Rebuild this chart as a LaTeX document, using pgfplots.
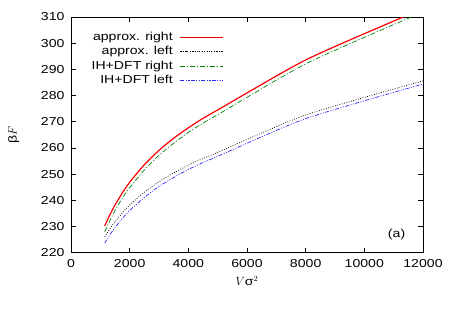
\documentclass[border=0pt]{standalone}
\usepackage{fontspec}
\setmainfont{Liberation Sans}[FakeStretch=1.22]
\usepackage{pgfplots}
\pgfplotsset{compat=1.18}

\definecolor{myred}{RGB}{255,0,0}
\definecolor{mygreen}{RGB}{0,128,0}
\definecolor{myblue}{RGB}{40,40,255}

\begin{document}
\begin{tikzpicture}[font=\fontsize{11.6}{13}\selectfont]
\path[use as bounding box] (-71bp,-62.3bp) rectangle (379bp,252.7bp);
\begin{axis}[
  at={(0,0)}, anchor=south west,
  scale only axis,
  width=352bp, height=235.7bp,
  xmin=0, xmax=12000, ymin=220, ymax=310,
  xtick={0,2000,...,12000},
  ytick={220,230,...,310},
  scaled x ticks=false,
  /pgf/number format/.cd, 1000 sep={}, assume math mode=true,
  /pgfplots/.cd,
  tick label style={font=\fontsize{11.6}{13}\selectfont},
  label style={font=\fontsize{11.6}{13}\selectfont},
  tick align=inside,
  major tick length=5bp,
  tick style={line width=0.8pt, black},
  axis line style={line width=0.8pt},
  xticklabel style={yshift=-3bp},
  yticklabel style={xshift=-3bp},
  xlabel={$V$σ$^2$},
  ylabel={β$F$},
  xlabel style={at={(axis description cs:0.5,0)}, anchor=center, yshift=-28bp},
  ylabel style={at={(axis description cs:-0.163,0.5)}, anchor=center},
  legend style={draw=none, fill=none, at={(0.435,0.953)}, anchor=north east,
    font=\fontsize{11.6}{13}\selectfont, row sep=0.5bp, column sep=5bp,
    inner xsep=1bp},
  legend cell align=right,
  legend plot pos=right,
  legend image code/.code={\draw[#1] plot coordinates {(0bp,0bp) (21bp,0bp) (42bp,0bp)};},
]
% approximate free energy, right-hand branch
\addplot[myred, line width=1.2pt, smooth, tension=0.4] coordinates {
 (1150,230.2) (1300,233.9) (1500,238.2) (1750,242.8) (2000,246.9)
 (2500,253.6) (3000,259.1) (3500,263.7) (4000,267.7) (4500,271.3)
 (5000,274.5) (8000,293.6) (11330,310.0)};
\addlegendentry{approx. right}
% approximate free energy, left-hand branch
\addplot[black, line width=0.7pt, dash pattern=on 0.8pt off 1.6pt, smooth, tension=0.4] coordinates {
 (1150,226.0) (1300,228.7) (1500,231.8) (1750,235.2) (2000,238.2)
 (2500,243.1) (3000,247.1) (3500,250.5) (4000,253.4) (4500,256.0)
 (5000,258.3) (8000,272.6) (12000,285.6)};
\addlegendentry{approx. left}
% IH+DFT, right-hand branch
\addplot[mygreen, line width=0.7pt, dash pattern=on 5pt off 2pt on 1pt off 2pt, smooth, tension=0.4] coordinates {
 (1150,228.0) (1300,231.7) (1500,236.1) (1750,240.8) (2000,244.8)
 (2500,251.6) (3000,257.2) (3500,261.8) (4000,265.9) (4500,269.5)
 (5000,272.7) (8000,292.1) (11600,310.0)};
\addlegendentry{IH+DFT right}
% IH+DFT, left-hand branch
\addplot[myblue, line width=0.7pt, dash pattern=on 4pt off 1.5pt on 1pt off 1.5pt on 1pt off 1.5pt, smooth, tension=0.4] coordinates {
 (1150,223.6) (1300,226.4) (1500,229.6) (1750,233.1) (2000,236.1)
 (2500,241.1) (3000,245.3) (3500,248.7) (4000,251.8) (4500,254.4)
 (5000,256.8) (8000,271.2) (12000,284.4)};
\addlegendentry{IH+DFT left}
\node at (axis cs:11100,226.8) {(a)};
\end{axis}
\end{tikzpicture}
\end{document}
